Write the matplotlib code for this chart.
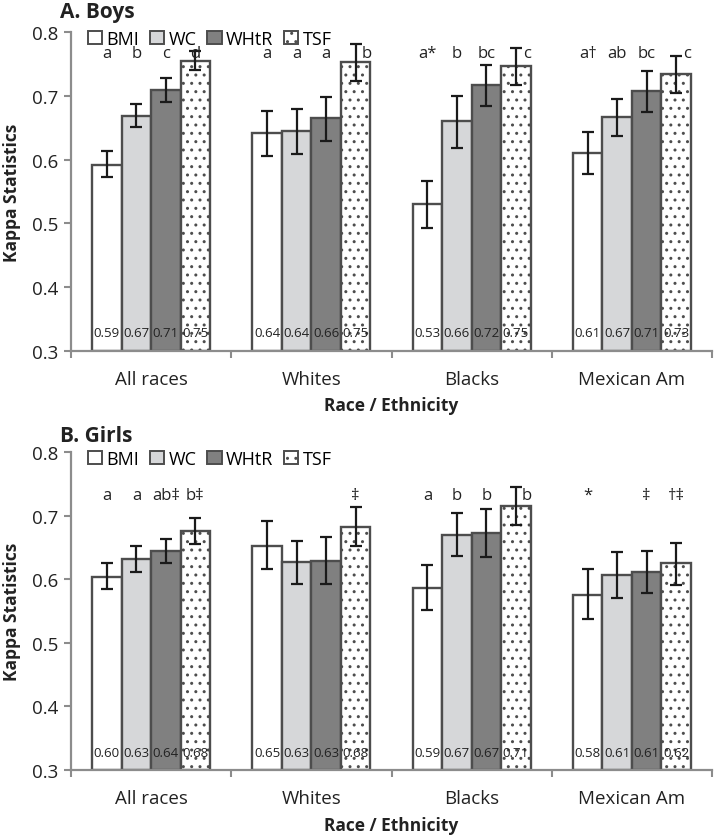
import matplotlib
matplotlib.use("Agg")
import matplotlib.pyplot as plt
from matplotlib.patches import Patch
import numpy as np

plt.rcParams['font.family'] = ['Open Sans', 'DejaVu Sans']
plt.rcParams['hatch.linewidth'] = 1.0
plt.rcParams['hatch.color'] = '#505050'

categories = ["All races", "Whites", "Blacks", "Mexican Am"]
measures = ["BMI", "WC", "WHtR", "TSF"]

# Boys: kappa values (rows = measures, cols = categories)
boys_vals = [
    [0.592, 0.642, 0.530, 0.611],   # BMI
    [0.669, 0.645, 0.660, 0.667],   # WC
    [0.710, 0.665, 0.717, 0.708],   # WHtR
    [0.755, 0.753, 0.747, 0.734],   # TSF
]
boys_lo = [
    [0.572, 0.606, 0.493, 0.578],
    [0.652, 0.609, 0.619, 0.637],
    [0.691, 0.630, 0.685, 0.675],
    [0.740, 0.723, 0.718, 0.705],
]
boys_hi = [
    [0.613, 0.677, 0.567, 0.643],
    [0.687, 0.680, 0.700, 0.696],
    [0.728, 0.698, 0.749, 0.739],
    [0.770, 0.782, 0.775, 0.763],
]
boys_labels = [
    ["0.59", "0.64", "0.53", "0.61"],
    ["0.67", "0.64", "0.66", "0.67"],
    ["0.71", "0.66", "0.72", "0.71"],
    ["0.75", "0.75", "0.75", "0.73"],
]
boys_letters = [
    ["a", "a", "a*", "a\u2020"],
    ["b", "a", "b", "ab"],
    ["c", "a", "bc", "bc"],
    ["d", "b", "c", "c"],
]

# Girls
girls_vals = [
    [0.604, 0.653, 0.586, 0.576],
    [0.632, 0.627, 0.670, 0.607],
    [0.644, 0.629, 0.673, 0.611],
    [0.676, 0.683, 0.715, 0.625],
]
girls_lo = [
    [0.584, 0.617, 0.551, 0.537],
    [0.612, 0.592, 0.637, 0.571],
    [0.625, 0.592, 0.635, 0.578],
    [0.656, 0.653, 0.685, 0.591],
]
girls_hi = [
    [0.625, 0.691, 0.622, 0.616],
    [0.653, 0.661, 0.704, 0.643],
    [0.663, 0.666, 0.711, 0.645],
    [0.696, 0.714, 0.745, 0.657],
]
girls_labels = [
    ["0.60", "0.65", "0.59", "0.58"],
    ["0.63", "0.63", "0.67", "0.61"],
    ["0.64", "0.63", "0.67", "0.61"],
    ["0.68", "0.68", "0.71", "0.62"],
]
girls_letters = [
    ["a", "", "a", "*"],
    ["a", "", "b", ""],
    ["ab\u2021", "", "b", "\u2021"],
    ["b\u2021", "\u2021", "b", "\u2020\u2021"],
]

yticks = [0.3, 0.4, 0.5, 0.6, 0.7, 0.8]

face = ["white", "#d6d7d9", "#808080", "white"]
hatches = [None, None, None, ".."]
edge = "#4d4d4d"
axis_col = "#8c8c8c"

fig = plt.figure(figsize=(7.16, 8.37), dpi=100)
ax_top = fig.add_axes([0.0992, 0.5800, 0.8952, 0.3802])
ax_bot = fig.add_axes([0.0992, 0.0789, 0.8952, 0.3796])

W = 0.184
small_font = ['Liberation Sans Narrow', 'Open Sans', 'DejaVu Sans']

def draw(ax, vals, lo, hi, labels, letters, letter_y, title, title_y):
    x = np.arange(len(categories))
    for i in range(4):
        v = np.array(vals[i])
        pos = x + (i - 1.5) * W
        ax.bar(pos, v - 0.3, bottom=0.3, width=W, color=face[i], edgecolor=edge,
               linewidth=1.7, hatch=hatches[i], zorder=2)
        yerr = [v - np.array(lo[i]), np.array(hi[i]) - v]
        ax.errorbar(pos, v, yerr=yerr, fmt='none', ecolor='#1a1a1a', elinewidth=1.6,
                    capsize=4, capthick=1.6, zorder=3)
        for j in range(4):
            ax.text(pos[j], 0.328, labels[i][j], ha='center', va='center',
                    fontsize=9.5, color='#222222', zorder=4, family=small_font)
            dx = 0.0
            if i == 3 and j > 0 and letters[i][j] in ("b", "c"):
                dx = 0.07
            ax.text(pos[j] + dx, letter_y, letters[i][j], ha='center', va='center',
                    fontsize=12, color='#222222', zorder=4)
    ax.set_xlim(-0.5, 3.5)
    ax.set_ylim(0.3, 0.8)
    ax.set_yticks(yticks)
    ax.set_yticklabels([f"{t:.1f}" for t in yticks], fontsize=13.5, color='#222222')
    ax.set_xticks([-0.5, 0.5, 1.5, 2.5, 3.5])
    ax.set_xticklabels([])
    ax.set_xticks(x, minor=True)
    ax.set_xticklabels(categories, minor=True, fontsize=13.5, color='#222222')
    ax.tick_params(axis='x', which='minor', length=0, pad=14)
    ax.tick_params(axis='x', which='major', length=5, width=1.5, color=axis_col, direction='out')
    ax.tick_params(axis='y', length=5, width=1.5, color=axis_col, direction='out', pad=4)
    for s in ['top', 'right']:
        ax.spines[s].set_visible(False)
    for s in ['left', 'bottom']:
        ax.spines[s].set_color(axis_col)
        ax.spines[s].set_linewidth(1.6)
    ax.set_xlabel("Race / Ethnicity", fontsize=12.5, fontweight='bold', labelpad=6, color='#222222')
    ax.set_ylabel("Kappa Statistics", fontsize=12.5, fontweight='bold', labelpad=8, color='#222222')
    handles = [Patch(facecolor=face[k], edgecolor=edge, hatch=hatches[k], linewidth=1.4,
                     label=measures[k]) for k in range(4)]
    ax.legend(handles=handles, ncol=4, loc='upper left', bbox_to_anchor=(0.015, 1.03),
              frameon=False, fontsize=13, handlelength=0.78, handleheight=0.78,
              handletextpad=0.25, columnspacing=0.6, borderaxespad=0)
    fig.text(0.084, title_y, title, fontsize=15, fontweight='bold', ha='left', va='center',
             color='#222222')

draw(ax_top, boys_vals, boys_lo, boys_hi, boys_labels, boys_letters, 0.767, "A. Boys", 0.985)
draw(ax_bot, girls_vals, girls_lo, girls_hi, girls_labels, girls_letters, 0.733, "B. Girls", 0.478)

fig.savefig("out.png", dpi=100)
